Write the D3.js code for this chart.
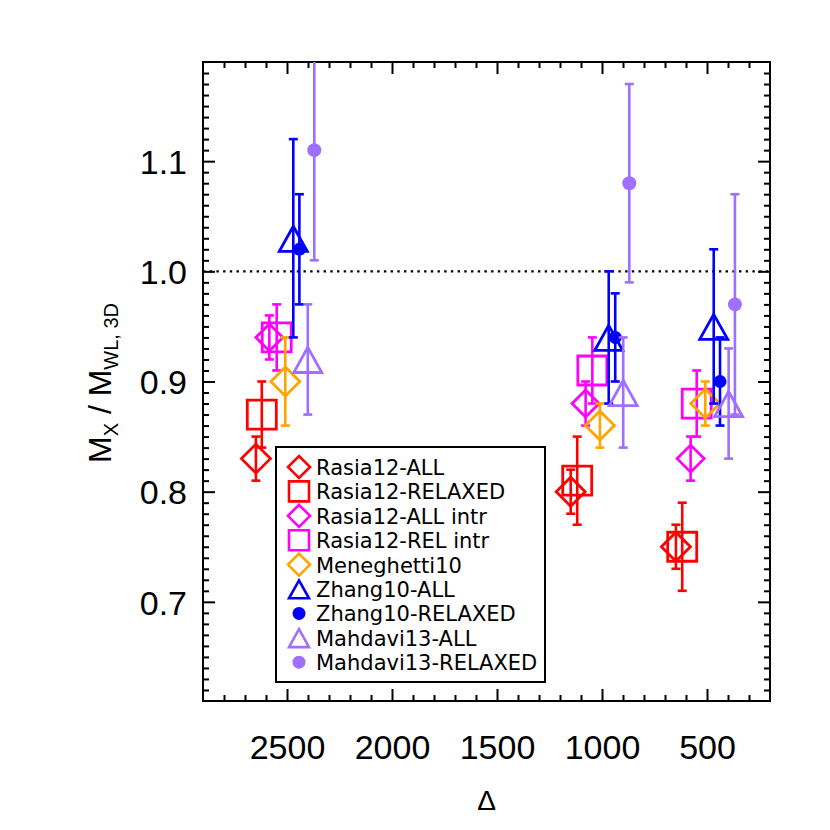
<!DOCTYPE html>
<meta charset="utf-8">
<style>
body { margin: 0; background: #fff; }
svg text { font-family: "Liberation Sans", Arial, sans-serif; fill: #000; }
.tick-lab { font-size: 34px; }
.leg-lab { font-family: "DejaVu Sans", sans-serif !important; font-size: 21px; }
</style>
<body>
<svg width="830" height="830"></svg>
<script src="https://cdn.jsdelivr.net/npm/d3@7"></script>
<script>

// series names + look
var names   = ["Rasia12-ALL", "Rasia12-RELAXED", "Rasia12-ALL intr", "Rasia12-REL intr",
               "Meneghetti10", "Zhang10-ALL", "Zhang10-RELAXED", "Mahdavi13-ALL", "Mahdavi13-RELAXED"];
var colors  = ["#ff0000", "#ff0000", "#ff00ff", "#ff00ff", "#ffa500",
               "#0000ff", "#0000ff", "#9f6fff", "#9f6fff"];
var symbols = ["diamond", "square", "diamond", "square", "diamond",
               "triangle", "dot", "triangle", "dot"];

// overdensity Delta where each point is drawn (offset around 2500, 1000, 500)
var deltaPos = [
  [2648, 1149, 648],
  [2620, 1118, 618],
  [2584, 1078, 578],
  [2549, 1046, 549],
  [2508, 1010, 508],
  [2470,  968, 468],
  [2441,  937, 438],
  [2401,  899, 397],
  [2370,  870, 367]
];
// M_X / M_WL,3D
var ratio = [
  [0.83, 0.80, 0.75],
  [0.87, 0.81, 0.75],
  [0.94, 0.88, 0.83],
  [0.94, 0.91, 0.88],
  [0.90, 0.86, 0.88],
  [1.03, 0.94, 0.95],
  [1.02, 0.94, 0.90],
  [0.92, 0.89, 0.88],
  [1.11, 1.08, 0.97]
];
var ratioErr = [
  [0.02, 0.02, 0.02],
  [0.03, 0.04, 0.04],
  [0.02, 0.02, 0.02],
  [0.03, 0.03, 0.03],
  [0.04, 0.02, 0.02],
  [0.09, 0.06, 0.07],
  [0.05, 0.04, 0.04],
  [0.05, 0.05, 0.05],
  [0.10, 0.09, 0.10]
];

var xMajor = [2500, 2000, 1500, 1000, 500];
var yMajor = [0.7, 0.8, 0.9, 1.0, 1.1];

var svg = d3.select("svg"),
    pL = 203, pR = 770, pT = 62, pB = 701;

var x = d3.scaleLinear().domain([2900, 200]).range([pL, pR]);
var y = d3.scaleLinear().domain([0.61, 1.19]).range([pB, pT]);

var xMinor = d3.range(300, 2900, 100).filter(function(v) { return v % 500 != 0; });
var yMinor = d3.range(62, 119).map(function(v) { return v / 100; })
    .filter(function(v) { return Math.round(v * 100) % 10 != 0; });

svg.append("clipPath").attr("id", "clip")
  .append("rect").attr("x", pL).attr("y", pT)
  .attr("width", pR - pL).attr("height", pB - pT);

// axes: ticks on all four sides, pointing in
function tickAxis(axisFn, scale, pos, vals, len, fmt) {
  var g = svg.append("g").attr("transform", pos)
    .call(axisFn(scale).tickValues(vals).tickSize(len).tickSizeOuter(0)
      .tickFormat(fmt ? d3.format(fmt) : ""));
  g.select(".domain").remove();
  g.selectAll("line").attr("stroke", "#000").attr("stroke-width", 2);
  return g;
}
var xb = tickAxis(d3.axisBottom, x, "translate(0," + pB + ")", xMajor, -12, "d");
tickAxis(d3.axisBottom, x, "translate(0," + pB + ")", xMinor, -6);
tickAxis(d3.axisTop, x, "translate(0," + pT + ")", xMajor, -12);
tickAxis(d3.axisTop, x, "translate(0," + pT + ")", xMinor, -6);
var yl = tickAxis(d3.axisLeft, y, "translate(" + pL + ",0)", yMajor, -12, ".1f");
tickAxis(d3.axisLeft, y, "translate(" + pL + ",0)", yMinor, -6);
tickAxis(d3.axisRight, y, "translate(" + pR + ",0)", yMajor, -12);
tickAxis(d3.axisRight, y, "translate(" + pR + ",0)", yMinor, -6);

xb.selectAll("text").attr("class", "tick-lab").attr("y", 58).attr("dy", 0);
yl.selectAll("text").attr("class", "tick-lab").attr("x", -16).attr("dy", "0.36em");

svg.append("rect").attr("x", pL).attr("y", pT)
  .attr("width", pR - pL).attr("height", pB - pT)
  .attr("fill", "none").attr("stroke", "#000").attr("stroke-width", 2);

// reference line at 1
svg.append("line")
  .attr("x1", pL).attr("x2", pR).attr("y1", y(1)).attr("y2", y(1))
  .attr("stroke", "#000").attr("stroke-width", 2.4).attr("stroke-dasharray", "2.4,4.3");

function symbolPath(sym, s) {
  if (sym == "diamond") return "M0," + (-s) + "L" + s + ",0L0," + s + "L" + (-s) + ",0Z";
  if (sym == "square") return "M" + (-s) + "," + (-s) + "H" + s + "V" + s + "H" + (-s) + "Z";
  if (sym == "triangle") return "M0," + (-0.86 * s) + "L" + s + "," + (0.93 * s) + "L" + (-s) + "," + (0.93 * s) + "Z";
  return null;
}

var plot = svg.append("g").attr("clip-path", "url(#clip)");

names.forEach(function(n, i) {
  var c = colors[i], sym = symbols[i];
  deltaPos[i].forEach(function(d, j) {
    var px = x(d), v = ratio[i][j], e = ratioErr[i][j];
    var g = plot.append("g");
    g.append("line").attr("x1", px).attr("x2", px)
      .attr("y1", y(v + e)).attr("y2", y(v - e));
    [v + e, v - e].forEach(function(t) {
      g.append("line").attr("x1", px - 4.5).attr("x2", px + 4.5)
        .attr("y1", y(t)).attr("y2", y(t));
    });
    g.selectAll("line").attr("stroke", c).attr("stroke-width", 2.6);
    if (sym == "dot") {
      g.append("circle").attr("cx", px).attr("cy", y(v))
        .attr("r", i == 8 ? 7 : 6.5).attr("fill", c);
    } else {
      var s = sym == "square" ? 14.5 : (sym == "triangle" ? 14 : (i == 2 ? 13.5 : 14.5));
      g.append("path").attr("d", symbolPath(sym, s))
        .attr("transform", "translate(" + px + "," + y(v) + ")")
        .attr("fill", "none").attr("stroke", c).attr("stroke-width", 2.8);
    }
  });
});

// legend
var leg = svg.append("g");
leg.append("rect").attr("x", 276).attr("y", 447).attr("width", 269).attr("height", 235)
  .attr("fill", "#fff").attr("stroke", "#000").attr("stroke-width", 2);
names.forEach(function(n, i) {
  var ly = 467 + i * 24.4;
  if (symbols[i] == "dot") {
    leg.append("circle").attr("cx", 299).attr("cy", ly).attr("r", 6.5).attr("fill", colors[i]);
  } else {
    var s = symbols[i] == "diamond" ? 11 : 10;
    leg.append("path").attr("d", symbolPath(symbols[i], s))
      .attr("transform", "translate(299," + ly + ")")
      .attr("fill", "none").attr("stroke", colors[i]).attr("stroke-width", 2.6);
  }
  leg.append("text").attr("class", "leg-lab").attr("x", 316).attr("y", ly + 8).text(n);
});

// axis titles
svg.append("text").attr("x", (pL + pR) / 2).attr("y", 810)
  .attr("text-anchor", "middle").style("font-size", "28px").text("\u0394");

var yt = svg.append("text")
  .attr("transform", "translate(111,383) rotate(-90)")
  .attr("text-anchor", "middle").style("font-size", "32px");
yt.append("tspan").text("M");
yt.append("tspan").attr("dy", 7).style("font-size", "20px").text("X");
yt.append("tspan").attr("dy", -7).text("  /  M");
yt.append("tspan").attr("dy", 7).style("font-size", "20px").text("WL, 3D");

</script>
</body>
